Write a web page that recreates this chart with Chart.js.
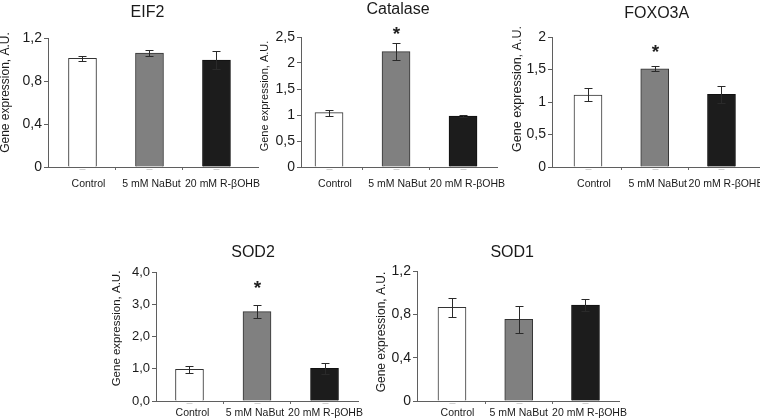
<!DOCTYPE html>
<html>
<head>
<meta charset="utf-8">
<script src="https://cdn.jsdelivr.net/npm/chart.js@4.4.1/dist/chart.umd.min.js"></script>
<style>
  html, body { margin: 0; padding: 0; background: #fff; }
  #page { position: relative; width: 760px; height: 420px; overflow: hidden; }
  #page canvas { position: absolute; left: 0; top: 0; }
</style>
</head>
<body>
<div id="page"></div>
<script>
// groups, shared by all five panels
const groups = ['Control', '5 mM NaBut', '20 mM R-βOHB'];

// values (mean, error)
const eif2Means = [1.01, 1.06, 0.995];
const eif2Errors = [0.022, 0.025, 0.087];
const catalaseMeans = [1.045, 2.22, 0.98];
const catalaseErrors = [0.058, 0.16, 0.015];
const foxo3aMeans = [1.108, 1.512, 1.118];
const foxo3aErrors = [0.1, 0.035, 0.128];
const sod2Means = [0.98, 2.77, 1.01];
const sod2Errors = [0.1, 0.2, 0.18];
const sod1Means = [0.865, 0.754, 0.886];
const sod1Errors = [0.09, 0.126, 0.053];

// asterisks (level in axis units, null = none)
const eif2Stars = [null, null, null];
const catalaseStars = [null, 2.65, null];
const foxo3aStars = [null, 1.85, null];
const sod2Stars = [null, 3.66, null];
const sod1Stars = [null, null, null];

// y tick values and labels
const eif2Ticks = [0, 0.4, 0.8, 1.2];
const eif2TickLabels = ['0', '0,4', '0,8', '1,2'];
const catalaseTicks = [0, 0.5, 1, 1.5, 2, 2.5];
const catalaseTickLabels = ['0', '0,5', '1', '1,5', '2', '2,5'];
const foxo3aTicks = [0, 0.5, 1, 1.5, 2];
const foxo3aTickLabels = ['0', '0,5', '1', '1,5', '2'];
const sod2Ticks = [0, 1, 2, 3, 4];
const sod2TickLabels = ['0,0', '1,0', '2,0', '3,0', '4,0'];
const sod1Ticks = [0, 0.4, 0.8, 1.2];
const sod1TickLabels = ['0', '0,4', '0,8', '1,2'];

const barFills = ['#ffffff', '#808080', '#1c1c1c'];
const barBorders = ['#333333', '#333333', '#111111'];
const FONT = "'Liberation Sans', Arial, sans-serif";
const X_AXIS_H = 30;
const CW = 800, CH = 420;

// layout of each panel (pixels)
const panels = [
  { title: 'EIF2', means: eif2Means, errors: eif2Errors, stars: eif2Stars, ticks: eif2Ticks, labels: eif2TickLabels,
    boxLeft: 0, axisW: 48, right: 258, top: 38, bottom: 167, xMin: -0.515, xMax: 2.62,
    titleGap: 25, titleDx: -2, xPad: 8, tickSize: 14, labelShift: [6, 2, 6],
    yTitleX: 5.5, yTitleDy: -10, yTitleSize: 12 },
  { title: 'Catalase', means: catalaseMeans, errors: catalaseErrors, stars: catalaseStars, ticks: catalaseTicks, labels: catalaseTickLabels,
    boxLeft: 258, axisW: 43, right: 497, top: 37, bottom: 167, xMin: -0.418, xMax: 2.507,
    titleGap: 27.5, titleDx: 2, xPad: 8, tickSize: 14, labelShift: [6, 1.5, 4.5],
    yTitleX: 264.5, yTitleDy: -6, yTitleSize: 11 },
  { title: 'FOXO3A', means: foxo3aMeans, errors: foxo3aErrors, stars: foxo3aStars, ticks: foxo3aTicks, labels: foxo3aTickLabels,
    boxLeft: 511, axisW: 41, right: 760, top: 37, bottom: 167, xMin: -0.539, xMax: 2.577,
    titleGap: 23, titleDx: 2, xPad: 8, tickSize: 14, labelShift: [6, 3, 4.5],
    yTitleX: 518, yTitleDy: -13, yTitleSize: 12.5 },
  { title: 'SOD2', means: sod2Means, errors: sod2Errors, stars: sod2Stars, ticks: sod2Ticks, labels: sod2TickLabels,
    boxLeft: 110, axisW: 46, right: 358, top: 272, bottom: 401, xMin: -0.496, xMax: 2.496,
    titleGap: 19.5, titleDx: -4, xPad: 3, tickSize: 13, labelShift: [3, -2, 1],
    yTitleX: 116.7, yTitleDy: -8, yTitleSize: 11.5 },
  { title: 'SOD1', means: sod1Means, errors: sod1Errors, stars: sod1Stars, ticks: sod1Ticks, labels: sod1TickLabels,
    boxLeft: 375, axisW: 42, right: 619, top: 271, bottom: 401, xMin: -0.524, xMax: 2.502,
    titleGap: 18.5, titleDx: -6.5, xPad: 3, tickSize: 14, labelShift: [5.5, 0, 4],
    yTitleX: 382, yTitleDy: -4, yTitleSize: 12 }
];

// error bars, asterisks, centre marks and titles
const extras = {
  id: 'extras',
  afterDatasetsDraw(chart, args, opts) {
    const p = opts.panel;
    const ctx = chart.ctx;
    const xs = chart.scales.x, ys = chart.scales.y;
    const area = chart.chartArea;
    ctx.save();
    ctx.lineWidth = 1;
    p.means.forEach(function (m, i) {
      const x = Math.round(xs.getPixelForValue(i)) + 0.5;
      // faint mark under each bar
      ctx.strokeStyle = '#cfcfcf';
      ctx.beginPath();
      ctx.moveTo(x - 3, Math.round(area.bottom) + 2.5);
      ctx.lineTo(x + 3, Math.round(area.bottom) + 2.5);
      ctx.stroke();
      const hi = Math.round(ys.getPixelForValue(m + p.errors[i])) + 0.5;
      const lo = Math.round(ys.getPixelForValue(m - p.errors[i])) + 0.5;
      ctx.strokeStyle = '#2a2a2a';
      ctx.beginPath();
      ctx.moveTo(x, hi); ctx.lineTo(x, lo);
      ctx.moveTo(x - 4, hi); ctx.lineTo(x + 4, hi);
      ctx.moveTo(x - 4, lo); ctx.lineTo(x + 4, lo);
      ctx.stroke();
      if (p.stars[i] !== null) {
        ctx.fillStyle = '#222';
        ctx.font = 'bold 19px ' + FONT;
        ctx.textAlign = 'center';
        ctx.textBaseline = 'alphabetic';
        ctx.fillText('*', x, ys.getPixelForValue(p.stars[i]) + 11);
      }
    });
    ctx.fillStyle = '#1a1a1a';
    ctx.font = '16px ' + FONT;
    ctx.textAlign = 'center';
    ctx.textBaseline = 'middle';
    ctx.fillText(p.title, xs.getPixelForValue(1) + p.titleDx, area.top - p.titleGap);
    // y axis title
    ctx.translate(p.yTitleX, (area.top + area.bottom) / 2 + p.yTitleDy);
    ctx.rotate(-Math.PI / 2);
    ctx.font = p.yTitleSize + 'px ' + FONT;
    ctx.fillText('Gene expression, A.U.', 0, 0);
    ctx.restore();
  }
};

const page = document.getElementById('page');

panels.forEach(function (p) {
  const canvas = document.createElement('canvas');
  canvas.width = CW;
  canvas.height = CH;
  page.append(canvas);
  const pxPerUnit = (p.right - p.boxLeft - p.axisW) / (p.xMax - p.xMin);

  new Chart(canvas, {
    type: 'bar',
    data: {
      datasets: [{
        data: p.means.map(function (m, i) { return { x: i, y: m }; }),
        backgroundColor: barFills,
        borderColor: barBorders,
        borderWidth: 1,
        barThickness: 28
      }]
    },
    plugins: [extras],
    options: {
      responsive: false,
      animation: false,
      layout: {
        padding: { left: p.boxLeft, top: p.top, right: CW - p.right, bottom: CH - p.bottom - X_AXIS_H }
      },
      plugins: {
        legend: { display: false },
        tooltip: { enabled: false },
        extras: { panel: p }
      },
      scales: {
        x: {
          type: 'linear',
          min: p.xMin,
          max: p.xMax,
          offset: false,
          afterFit: function (s) { s.height = X_AXIS_H; },
          afterBuildTicks: function (s) {
            const t = [{ value: 0.5 }, { value: 1.5 }];
            groups.forEach(function (g, i) {
              t.push({ value: i + p.labelShift[i] / pxPerUnit, name: g });
            });
            t.sort(function (a, b) { return a.value - b.value; });
            s.ticks = t;
          },
          grid: {
            offset: false,
            drawOnChartArea: false,
            drawTicks: true,
            tickLength: 3,
            tickColor: function (c) { return c.tick && c.tick.name ? 'rgba(0,0,0,0)' : '#6a6a6a'; }
          },
          border: { display: true, color: '#5f5f5f', width: 1 },
          ticks: {
            autoSkip: false,
            maxRotation: 0,
            minRotation: 0,
            padding: p.xPad,
            color: '#1a1a1a',
            font: { family: FONT, size: 10.5 },
            callback: function (v, i, t) { return t[i].name || ''; }
          }
        },
        y: {
          min: 0,
          max: p.ticks[p.ticks.length - 1],
          afterFit: function (s) { s.width = p.axisW; },
          afterBuildTicks: function (s) {
            s.ticks = p.ticks.map(function (v) { return { value: v }; });
          },
          grid: { drawOnChartArea: false, drawTicks: true, tickLength: 4, tickColor: '#5f5f5f' },
          border: { display: true, color: '#5f5f5f', width: 1 },
          ticks: {
            padding: 2,
            color: '#1a1a1a',
            font: { family: FONT, size: p.tickSize },
            callback: function (v, i) { return p.labels[i]; }
          }
        }
      }
    }
  });
});
</script>
</body>
</html>
